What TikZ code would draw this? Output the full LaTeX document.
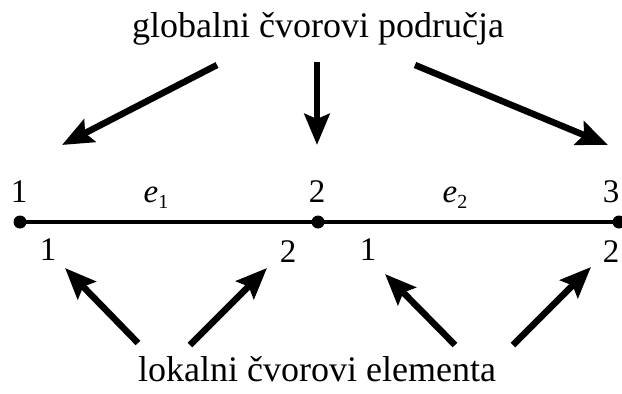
\documentclass[tikz,border=0pt]{standalone}
\usepackage{fontspec}
\setmainfont{Liberation Serif}
\usetikzlibrary{arrows.meta}
\begin{document}
\begin{tikzpicture}[x=1pt,y=-1pt,
  arr/.style={line width=6.5pt,-{Stealth[length=31pt,width=25pt,inset=5pt]}},
  bar/.style={line width=4pt},
  dot/.style={circle,fill=black,inner sep=0pt,minimum size=13pt},
  lab/.style={font=\fontsize{33}{36}\selectfont,inner sep=0pt,anchor=base},
  big/.style={font=\fontsize{36}{40}\selectfont,inner sep=0pt,anchor=base}]
\useasboundingbox (0,0) rectangle (622,394);
\clip (0,0) rectangle (622,394);
\node[big] (top) at (318,37) {globalni čvorovi područja};
\node[big] (bot) at (317,381) {lokalni čvorovi elementa};
\node[dot] (n1) at (20,222) {};
\node[dot] (n2) at (318,222) {};
\node[dot] (n3) at (619,222) {};
\draw[bar] (n1.center) -- (n2.center) -- (n3.center);
\node[lab] (g1) at (19,202) {1};
\node[lab] (g2) at (317,202) {2};
\node[lab] (g3) at (611,202) {3};
\node[lab] (e1) at (156,202) {\itshape e\raisebox{-0.4ex}{\upshape\fontsize{20}{22}\selectfont 1}};
\node[lab] (e2) at (455,202) {\itshape e\raisebox{-0.4ex}{\upshape\fontsize{20}{22}\selectfont 2}};
\node[lab] (l1) at (48,260) {1};
\node[lab] (l2) at (288,262) {2};
\node[lab] (l3) at (368,260) {1};
\node[lab] (l4) at (611,262) {2};
\coordinate (a1s) at (217,65); \coordinate (a1e) at (62,145);
\coordinate (a2s) at (317,62); \coordinate (a2e) at (317,145);
\coordinate (a3s) at (415,65); \coordinate (a3e) at (608,145);
\coordinate (b1s) at (138,343); \coordinate (b1e) at (65,268);
\coordinate (b2s) at (190,345); \coordinate (b2e) at (267,268);
\coordinate (b3s) at (455,345); \coordinate (b3e) at (385,274);
\coordinate (b4s) at (513,345); \coordinate (b4e) at (591,267);
\foreach \s/\e in {a1s/a1e,a2s/a2e,a3s/a3e,b1s/b1e,b2s/b2e,b3s/b3e,b4s/b4e}
  \draw[arr] (\s) -- (\e);
\end{tikzpicture}
\end{document}
